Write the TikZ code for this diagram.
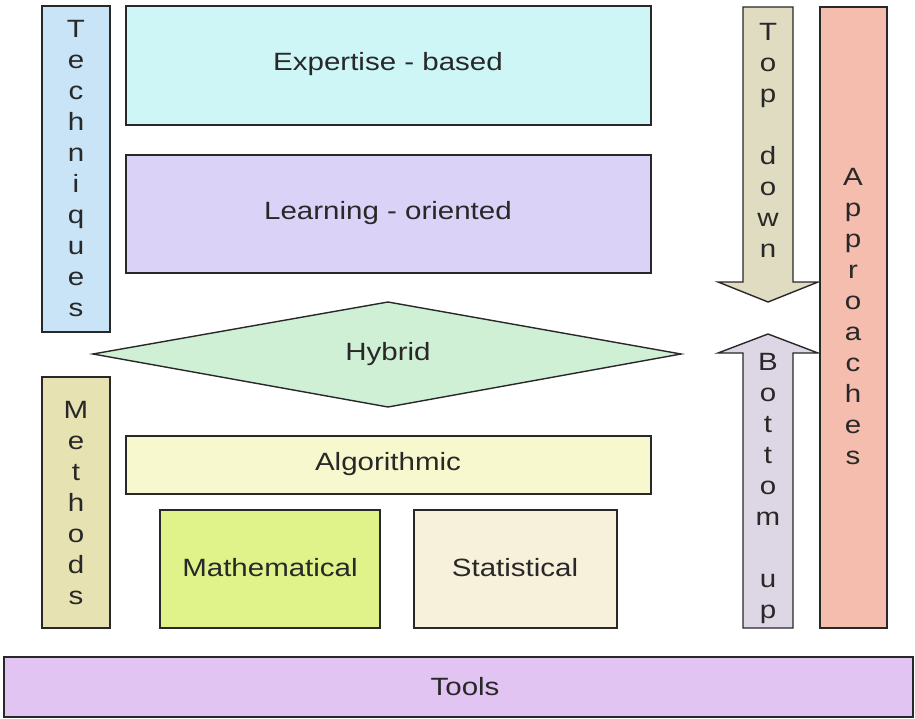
\documentclass[tikz,border=0pt]{standalone}
\usepackage{fontspec}
\setmainfont[FakeStretch=1.18]{Liberation Sans}
\usetikzlibrary{shapes.geometric}
\definecolor{cTech}{RGB}{200,228,246}
\definecolor{cExp}{RGB}{206,246,246}
\definecolor{cLearn}{RGB}{218,211,247}
\definecolor{cHyb}{RGB}{208,240,214}
\definecolor{cMeth}{RGB}{230,226,178}
\definecolor{cAlg}{RGB}{248,248,206}
\definecolor{cMath}{RGB}{224,242,138}
\definecolor{cStat}{RGB}{247,241,219}
\definecolor{cTop}{RGB}{223,220,194}
\definecolor{cBot}{RGB}{221,215,229}
\definecolor{cAppr}{RGB}{244,189,174}
\definecolor{cTools}{RGB}{226,196,242}
\definecolor{cLine}{RGB}{40,40,40}
\definecolor{cText}{RGB}{40,40,40}
\begin{document}
\begin{tikzpicture}[x=1pt,y=-1pt,
  lbl/.style={text=cText,font=\fontsize{25}{31}\selectfont,inner sep=0pt,align=center},
  boxshape/.style={draw=cLine,line width=1.4pt}]
\useasboundingbox (0,0) rectangle (915,719);
\fill[white] (0,0) rectangle (915,719);
% boxes
\draw[boxshape,fill=cTech] (42,6) rectangle (110,332);
\node[lbl] (tech) at (76,169) {T\\e\\c\\h\\n\\i\\q\\u\\e\\s};
\draw[boxshape,fill=cExp] (126,6) rectangle (651,125);
\node[lbl] (exp) at (388,64) {Expertise - based};
\draw[boxshape,fill=cLearn] (126,155) rectangle (651,273);
\node[lbl] (learn) at (388,213) {Learning - oriented};
\draw[boxshape,fill=cHyb] (93,354) -- (388,302) -- (681,354) -- (388,407) -- cycle;
\node[lbl] (hyb) at (388,354) {Hybrid};
\draw[boxshape,fill=cMeth] (42,377) rectangle (110,628);
\node[lbl] (meth) at (76,503) {M\\e\\t\\h\\o\\d\\s};
\draw[boxshape,fill=cAlg] (126,436) rectangle (651,494);
\node[lbl] (alg) at (388,464) {Algorithmic};
\draw[boxshape,fill=cMath] (160,510) rectangle (380,628);
\node[lbl] (math) at (270,568) {Mathematical};
\draw[boxshape,fill=cStat] (414,510) rectangle (617,628);
\node[lbl] (stat) at (515,568) {Statistical};
% arrows
\draw[boxshape,fill=cTop] (743,7) -- (793,7) -- (793,282) -- (818,282) -- (768,302) -- (718,282) -- (743,282) -- cycle;
\node[lbl] (top) at (768,140) {T\\o\\p\\ \\d\\o\\w\\n};
\draw[boxshape,fill=cBot] (743,628) -- (793,628) -- (793,353) -- (818,353) -- (768,334) -- (718,353) -- (743,353) -- cycle;
\node[lbl] (bot) at (768,488) {B\\o\\t\\t\\o\\m\\ \\u\\p};
\draw[boxshape,fill=cAppr] (820,7) rectangle (887,628);
\node[lbl] (appr) at (853,317) {A\\p\\p\\r\\o\\a\\c\\h\\e\\s};
% tools
\draw[boxshape,fill=cTools] (4,657) rectangle (913,717);
\node[lbl] (tools) at (465,687) {Tools};
\end{tikzpicture}
\end{document}
